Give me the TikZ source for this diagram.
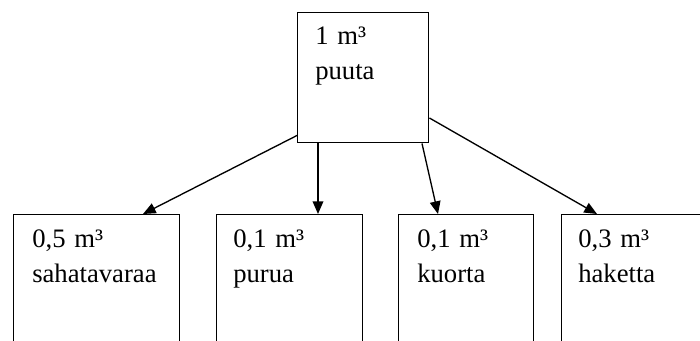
\documentclass[tikz,border=0pt]{standalone}
\usepackage{fontspec}
\setmainfont{Liberation Serif}
\usetikzlibrary{arrows.meta}
\tikzset{
  % laatikot
  laatikko/.style = {draw, line width=1.1pt, anchor=north west, inner sep=0pt},
  ylalaatikko/.style = {laatikko, minimum width=98.25pt, minimum height=97.5pt},
  alalaatikko/.style = {laatikko, minimum height=112.5pt},
  % tekstit laatikoissa
  teksti/.style = {anchor=base west, inner sep=0pt, text width=90pt, align=left,
    font=\fontsize{20}{26.25}\selectfont},
  % nuolet
  nuoli/.style = {line width=1pt, -{Triangle[length=9.5pt, width=8pt]}},
}
\begin{document}
\begin{tikzpicture}[x=0.75pt, y=-0.75pt]
  \clip (0,0) rectangle (700,340);
  % puu ylhaalla
  \node[ylalaatikko] (puu) at (297,12) {};
  \node[teksti] (puuT) at ([shift={(18,32)}]puu.north west) {1 m³\\puuta};
  % jakeet alhaalla
  \node[alalaatikko, minimum width=124.5pt] (saha) at (13,214) {};
  \node[alalaatikko, minimum width=109.5pt] (puru) at (216,214) {};
  \node[alalaatikko, minimum width=101.25pt] (kuori) at (398,214) {};
  \node[alalaatikko, minimum width=125.25pt] (hake) at (561,214) {};
  \node[teksti] (sahaT) at ([shift={(19,33)}]saha.north west) {0,5 m³\\sahatavaraa};
  \node[teksti] (puruT) at ([shift={(17,33)}]puru.north west) {0,1 m³\\purua};
  \node[teksti] (kuoriT) at ([shift={(19,33)}]kuori.north west) {0,1 m³\\kuorta};
  \node[teksti] (hakeT) at ([shift={(17,33)}]hake.north west) {0,3 m³\\haketta};
  % nuolet
  \draw[nuoli] ([shift={(0,-8)}]puu.south west) -- ([shift={(130,0)}]saha.north west);
  \draw[nuoli] ([shift={(21,0)}]puu.south west) -- ([shift={(102,0)}]puru.north west);
  \draw[nuoli] ([shift={(125,0)}]puu.south west) -- ([shift={(40,0)}]kuori.north west);
  \draw[nuoli] ([shift={(0,106)}]puu.north east) -- ([shift={(36,0)}]hake.north west);
\end{tikzpicture}
\end{document}
